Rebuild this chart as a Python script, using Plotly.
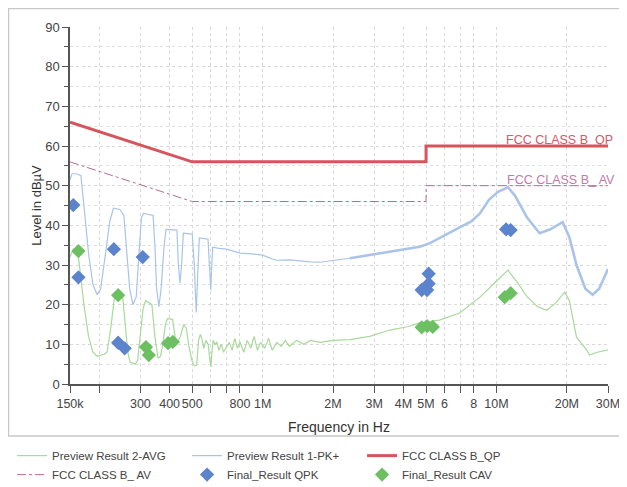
import numpy as np
import plotly.graph_objects as go

# preview scans (frequency in Hz, level in dBuV)
pk_freq = [150e3, 153e3, 160e3, 167e3, 172e3, 180e3, 188e3, 196e3, 203e3, 212e3, 222e3, 230e3,
           245e3, 255e3, 262e3, 270e3, 279e3, 288e3, 296e3, 303e3, 310e3, 340e3, 346e3, 352e3,
           360e3, 368e3, 378e3, 386e3, 430e3, 436e3, 443e3, 450e3, 458e3, 500e3, 510e3, 520e3,
           528e3, 536e3, 584e3, 592e3, 600e3, 606e3, 612e3, 650e3, 700e3, 750e3, 800e3, 900e3,
           1.0e6, 1.1e6, 1.15e6, 1.3e6, 1.45e6, 1.6e6, 1.76e6, 1.9e6, 2.04e6, 2.36e6, 2.87e6,
           3.5e6, 4.2e6, 4.7e6, 5.2e6, 5.7e6, 6.3e6, 6.96e6, 7.8e6, 8.5e6, 9.3e6, 10.2e6, 11.2e6,
           12e6, 13.5e6, 15.3e6, 17e6, 19.2e6, 20.5e6, 22e6, 24e6, 25.8e6, 27.5e6, 29e6, 30e6]
pk_level = [51.5, 53, 53, 52.5, 45, 33, 25, 22.5, 24, 32, 41, 44.3,
            44, 42.5, 33, 24, 20, 22, 33, 42, 43, 42.5, 35, 24,
            19.5, 24, 34, 39, 38.8, 30, 25.5, 30, 38, 37.8, 30, 18,
            28, 36.8, 36.5, 28, 23.7, 30, 34.5, 34.2, 34, 33.5, 33, 32.8,
            32.5, 31.5, 31.2, 31.3, 31.0, 30.8, 30.7, 31.0, 31.2, 31.7, 32.5,
            33.3, 34, 34.6, 35.5, 36.8, 38, 39.5, 41, 43, 46.5, 48.5, 49.6,
            47.5, 42, 38, 39, 40.8, 37, 30, 24, 22.5, 24, 27, 29]

avg_freq = [150e3, 155e3, 162e3, 166e3, 172e3, 180e3, 188e3, 196e3, 210e3, 216e3, 224e3, 232e3,
            240e3, 252e3, 258e3, 265e3, 271e3, 285e3, 292e3, 300e3, 308e3, 316e3, 336e3, 346e3,
            357e3, 366e3, 374e3, 384e3, 392e3, 412e3, 422e3, 432e3, 445e3, 460e3, 472e3, 482e3,
            498e3, 510e3, 522e3, 532e3, 542e3, 552e3, 560e3, 572e3, 585e3, 595e3, 601e3, 607e3,
            614e3, 625e3, 637e3, 650e3, 665e3, 680e3, 700e3, 720e3, 740e3, 760e3, 780e3, 800e3,
            830e3, 860e3, 890e3, 920e3, 950e3, 980e3, 1.02e6, 1.06e6, 1.1e6, 1.15e6, 1.2e6,
            1.25e6, 1.3e6, 1.4e6, 1.5e6, 1.6e6, 1.76e6, 2.0e6, 2.36e6, 2.87e6, 3.5e6, 4.2e6,
            4.7e6, 5.7e6, 6.96e6, 8.5e6, 9.8e6, 11.2e6, 12.5e6, 13.5e6, 15e6, 16.4e6, 18e6,
            19.6e6, 20.5e6, 22e6, 24.3e6, 25e6, 27e6, 30e6]
avg_level = [32, 34, 33.5, 28, 20, 12, 8, 7, 7.5, 8, 14, 21.5,
             22.5, 22, 15, 8, 5.5, 5, 6, 12, 19, 21, 20, 12,
             6.5, 7, 10, 15, 16.5, 16.3, 12, 10.5, 12, 15, 14, 10,
             6, 4.6, 4.8, 11, 12.5, 11, 9, 11, 10, 6, 4.3, 8,
             11, 10, 10.6, 8.5, 10, 8, 9.3, 10.5, 8.5, 11.5, 9, 10.6,
             8, 11, 9, 12, 8.5, 10.5, 9, 11.5, 8.5, 10.5, 9.5,
             11, 9.5, 11, 10, 11, 10.5, 11, 11.2, 12, 13.6, 14.5,
             15.4, 16.1, 17.9, 21.9, 25.4, 28.7, 25, 22, 19.5, 18.6, 20.5,
             23.2, 21, 11.8, 8.6, 7.3, 8, 8.6]

# limit lines
lim_freq = [150e3, 500e3, 5e6, 5e6, 30e6]
qp_limit = [66, 56, 56, 60, 60]
av_limit = [56, 46, 46, 50, 50]

# final measurements
qpk_freq = [155e3, 163e3, 231e3, 241e3, 257e3, 307e3, 4.79e6, 5.05e6, 5.13e6, 5.13e6, 11.0e6, 11.5e6]
qpk_level = [45.1, 26.9, 34, 10.4, 9, 32, 23.7, 23.7, 25.3, 27.8, 39, 38.8]
cav_freq = [163e3, 241e3, 317e3, 326e3, 394e3, 413e3, 4.79e6, 5.05e6, 5.34e6, 10.85e6, 11.5e6]
cav_level = [33.5, 22.4, 9.3, 7.3, 10.3, 10.6, 14.3, 14.6, 14.4, 21.9, 22.9]

tick_vals = [150e3, 200e3, 300e3, 400e3, 500e3, 600e3, 700e3, 800e3, 1e6, 2e6, 3e6, 4e6,
             5e6, 6e6, 7e6, 8e6, 10e6, 20e6, 30e6]
tick_text = ["150k", "", "300", "400", "500", "", "", "800", "1M", "2M", "3M", "4M",
             "5M", "6", "", "8", "10M", "20M", "30M"]

pk_f = np.array(pk_freq)
pk_l = np.array(pk_level)
lo = pk_f <= 2.36e6
hi = pk_f >= 2.36e6

fig = go.Figure()
fig.add_trace(go.Scatter(x=avg_freq, y=avg_level, mode="lines", name="Preview Result 2-AVG",
                         line=dict(color="#a9d99b", width=1.2)))
fig.add_trace(go.Scatter(x=pk_f[lo], y=pk_l[lo], mode="lines", name="Preview Result 1-PK+",
                         legendgroup="pk", line=dict(color="#a9c4e8", width=1.2)))
fig.add_trace(go.Scatter(x=pk_f[hi], y=pk_l[hi], mode="lines", legendgroup="pk", showlegend=False,
                         line=dict(color="#a9c4e8", width=2.6)))
fig.add_trace(go.Scatter(x=lim_freq, y=qp_limit, mode="lines", name="FCC CLASS B_QP",
                         line=dict(color="#d6545c", width=3)))
fig.add_trace(go.Scatter(x=lim_freq, y=av_limit, mode="lines", name="FCC CLASS B_ AV",
                         line=dict(color="#b56c92", width=1, dash="dashdot")))
fig.add_trace(go.Scatter(x=qpk_freq, y=qpk_level, mode="markers", name="Final_Result QPK",
                         marker=dict(symbol="diamond", size=11, color="#5b84cc")))
fig.add_trace(go.Scatter(x=cav_freq, y=cav_level, mode="markers", name="Final_Result CAV",
                         marker=dict(symbol="diamond", size=11, color="#6cc062")))

fig.add_annotation(text="FCC CLASS B_QP", xref="paper", yref="y", x=1.013, y=61.5,
                   xanchor="right", showarrow=False, font=dict(size=12.5, color="#d45a68"))
fig.add_annotation(text="FCC CLASS B_ AV", xref="paper", yref="y", x=1.016, y=51.4,
                   xanchor="right", showarrow=False, font=dict(size=12.5, color="#c679a8"))

# outer frame around the chart
fig.add_shape(type="rect", xref="paper", yref="paper", x0=-0.1143, x1=1.08, y0=-0.1457, y1=1.052,
              line=dict(color="#c8c8c8", width=1.5))

fig.update_xaxes(type="log", range=[np.log10(150e3), np.log10(30e6)], automargin=False,
                 tickvals=tick_vals, ticktext=tick_text, tickangle=0, ticks="outside", ticklen=7,
                 tickcolor="#555", showline=True, linecolor="#555", linewidth=1.5,
                 showgrid=True, gridcolor="#d8d8d8", griddash="dot", zeroline=False,
                 title=dict(text="Frequency in Hz", standoff=12, font=dict(size=14, color="#333")),
                 tickfont=dict(size=12.5, color="#444"))
fig.update_yaxes(range=[0, 90], dtick=10, ticks="outside", ticklen=6, tickcolor="#555",
                 automargin=False, showline=True, linecolor="#555", linewidth=1.5,
                 showgrid=True, gridcolor="#d8d8d8", griddash="dot", zeroline=False,
                 minor=dict(dtick=5, ticks="outside", ticklen=4, tickcolor="#555",
                            showgrid=True, gridcolor="#e0e0e0", griddash="dot"),
                 title=dict(text="Level in dBµV", standoff=1, font=dict(size=13, color="#333")),
                 tickfont=dict(size=13, color="#444"))

# the page adds 8px around the figure, so it is drawn 8px smaller
fig.update_layout(
    width=619, height=479,
    margin=dict(l=62, r=19, t=19, b=103, autoexpand=False),
    paper_bgcolor="white", plot_bgcolor="white",
    font=dict(family="Liberation Sans, Arial, sans-serif", color="#444"),
    legend=dict(orientation="h", x=-0.1077, y=-0.160, xanchor="left", yanchor="top",
                entrywidth=130, entrywidthmode="pixels", font=dict(size=11.5, color="#444"),
                bgcolor="rgba(0,0,0,0)", tracegroupgap=0),
)

fig.write_html("out.html")
